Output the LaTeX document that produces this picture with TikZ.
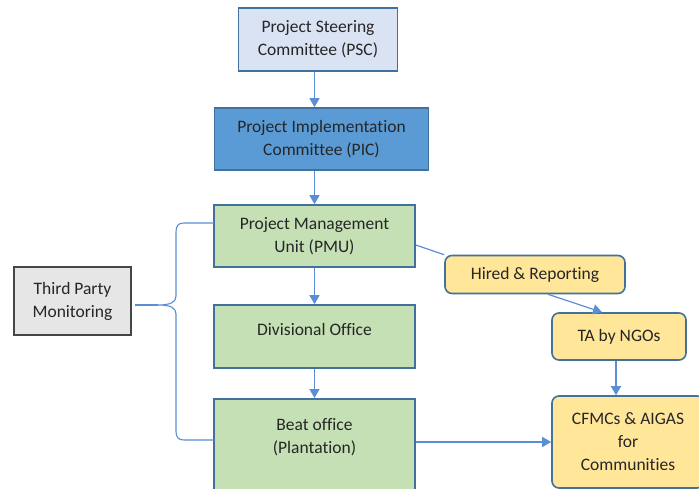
\documentclass[tikz,border=0pt]{standalone}
\usepackage{fontspec}
\setmainfont{Carlito}[Ligatures={NoCommon}]
\usetikzlibrary{arrows.meta}

\definecolor{txt}{RGB}{38,38,38}
\definecolor{edge}{RGB}{65,113,156}
\definecolor{pscfill}{RGB}{218,227,243}
\definecolor{picfill}{RGB}{91,155,213}
\definecolor{greenfill}{RGB}{197,224,180}
\definecolor{grayfill}{RGB}{231,230,230}
\definecolor{grayedge}{RGB}{70,70,70}
\definecolor{yellowfill}{RGB}{255,230,153}
\definecolor{link}{RGB}{91,142,214}

\tikzset{
  box/.style={draw=edge, line width=1.6pt, text=txt, align=center,
    inner sep=0pt, font=\fontsize{17.5}{23}\selectfont},
  pscbox/.style={box, fill=pscfill},
  picbox/.style={box, fill=picfill},
  greenbox/.style={box, fill=greenfill},
  graybox/.style={box, draw=grayedge, fill=grayfill},
  yellowbox/.style={box, fill=yellowfill, rounded corners=7pt},
  label/.style={text=txt, align=center, inner sep=0pt, font=\fontsize{17.5}{23}\selectfont},
  arr/.style={draw=link, line width=1.2pt, -{Triangle[width=10pt,length=9pt]}},
  plain/.style={draw=link, line width=1.2pt},
}

\begin{document}
\begin{tikzpicture}[x=1pt,y=-1pt]
  \useasboundingbox (0,0) rectangle (699,488);
  \fill[white] (0,0) rectangle (699,488);
  \clip (0,0) rectangle (699,488);

  % hierarchy column
  \node[pscbox, minimum width=159, minimum height=63] (psc) at (318,39.5)
    {Project Steering\\Committee (PSC)};
  \node[picbox, minimum width=214, minimum height=62] (pic) at (321.5,139)
    {Project Implementation\\Committee (PIC)};
  \node[greenbox, minimum width=201, minimum height=62] (pmu) at (314.5,236)
    {Project Management\\Unit (PMU)};
  \node[greenbox, minimum width=201, minimum height=63] (div) at (314.5,336.5) {};
  \node[label] (divtext) at (314.5,329) {Divisional Office};
  \node[greenbox, minimum width=201, minimum height=96, anchor=north] (beat) at (314.5,398) {};
  \node[label] (beattext) at (314.5,437) {Beat office\\(Plantation)};

  % monitoring
  \node[graybox, minimum width=117, minimum height=68] (tpm) at (72.5,301)
    {Third Party\\Monitoring};

  % field side
  \node[yellowbox, minimum width=180, minimum height=38] (hired) at (535,274.5)
    {Hired \& Reporting};
  \node[yellowbox, minimum width=134, minimum height=47] (ta) at (619,336.5)
    {TA by NGOs};
  \node[yellowbox, minimum width=152, minimum height=92] (cfmc) at (628,442)
    {CFMCs \& AIGAS\\for\\Communities};

  % vertical chain
  \draw[arr] (psc.south -| pmu.north) -- (pic.north -| pmu.north);
  \draw[arr] (pic.south -| pmu.north) -- (pmu.north);
  \draw[arr] (pmu.south) -- (div.north);
  \draw[arr] (div.south) -- (beat.north);

  % links to the field side
  \draw[plain] ([yshift=-9pt]pmu.east) -- (hired.north west);
  \draw[arr] ([xshift=13pt]hired.south) -- ([xshift=-17pt]ta.north);
  \draw[arr] ([xshift=-3pt]ta.south) -- ([xshift=-3pt]ta.south |- cfmc.north);
  \draw[arr] (beattext -| beat.east) ++(0,5) coordinate (beatout)
    (beatout) -- (beatout -| cfmc.west);

  % brace from monitoring to the field units
  \coordinate (btop) at (214,223);
  \coordinate (bbot) at (214,440);
  \coordinate (btip) at (158,305);
  \draw[plain, line width=1.1pt]
    (btop) -- (184,223) .. controls (178,223) and (176,226) .. (176,232)
    -- (176,296) .. controls (176,302) and (171,305) .. (btip)
    .. controls (171,305) and (176,308) .. (176,314)
    -- (176,431) .. controls (176,437) and (178,440) .. (184,440) -- (bbot);
  \draw[plain, line width=1.1pt] (tpm.east) ++(3,4) coordinate (tpmout)
    (tpmout) -- (btip);
\end{tikzpicture}
\end{document}
